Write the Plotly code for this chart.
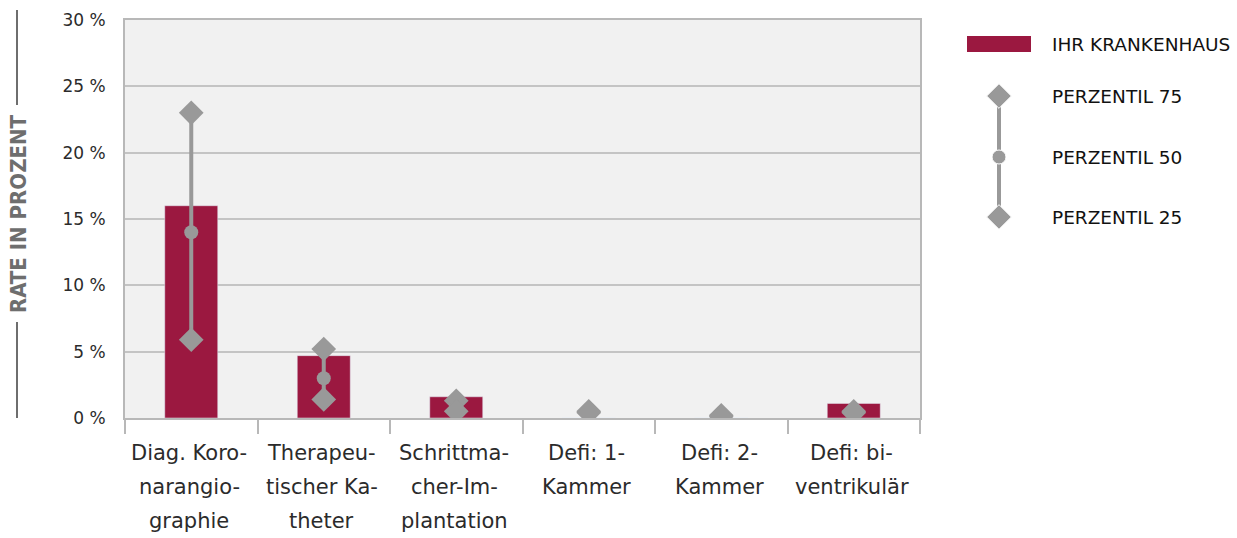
import plotly.graph_objects as go

# Kategorien (Zeilenumbrüche wie in der Beschriftung)
categories = ["Diag. Koronarangiographie", "Therapeutischer Katheter",
              "Schrittmacher-Implantation", "Defi: 1-Kammer", "Defi: 2-Kammer",
              "Defi: biventrikulär"]
category_lines = [
    ["Diag. Koro-", "narangio-", "graphie"],
    ["Therapeu-", "tischer Ka-", "theter"],
    ["Schrittma-", "cher-Im-", "plantation"],
    ["Defi: 1-", "Kammer"],
    ["Defi: 2-", "Kammer"],
    ["Defi: bi-", "ventrikulär"],
]

# Raten in Prozent
ihr_krankenhaus = [16.0, 4.7, 1.6, 0.0, 0.0, 1.1]
perzentil_75 = [23.0, 5.2, 1.3, 0.5, 0.2, 0.5]
perzentil_50 = [14.0, 3.0, 0.8, 0.4, 0.2, 0.4]
perzentil_25 = [5.9, 1.4, 0.5, 0.4, 0.1, 0.4]

y_ticks = [0, 5, 10, 15, 20, 25, 30]
y_tick_labels = [f"{v} %" for v in y_ticks]

legend_labels = ["IHR KRANKENHAUS", "PERZENTIL 75", "PERZENTIL 50", "PERZENTIL 25"]

BAR = "#9b1840"
GREY = "#999999"
AXIS = "#b8b8b8"
GRID = "#c4c4c4"
TEXT = "#2b2b2b"
FONT = "DejaVu Sans, sans-serif"

# Figure geometry (pixels)
W, H = 1237, 538
ML, MR, MT, MB = 125, 0, 20, 120
PLOT_RIGHT = 920
paper_w = W - ML - MR
paper_h = H - MT - MB
main_dom = (PLOT_RIGHT - ML) / paper_w
leg_left = 935


def px_x(x):
    return (x - ML) / paper_w


def px_y(y):
    return (H - MB - y) / paper_h


fig = go.Figure()

fig.add_trace(go.Bar(
    x=categories, y=ihr_krankenhaus, marker_color=BAR, width=0.4,
    name=legend_labels[0], showlegend=False,
))

# Spanne P25–P75 als senkrechte Linie
line_x, line_y = [], []
for c, lo, hi in zip(categories, perzentil_25, perzentil_75):
    line_x += [c, c, None]
    line_y += [lo, hi, None]
fig.add_trace(go.Scatter(
    x=line_x, y=line_y, mode="lines", line=dict(color=GREY, width=4),
    showlegend=False, hoverinfo="skip",
))
fig.add_trace(go.Scatter(
    x=categories, y=perzentil_75, mode="markers", name=legend_labels[1],
    marker=dict(symbol="diamond", size=19, color=GREY, opacity=1), showlegend=False,
))
fig.add_trace(go.Scatter(
    x=categories, y=perzentil_50, mode="markers", name=legend_labels[2],
    marker=dict(symbol="circle", size=14, color=GREY, opacity=1), showlegend=False,
))
fig.add_trace(go.Scatter(
    x=categories, y=perzentil_25, mode="markers", name=legend_labels[3],
    marker=dict(symbol="diamond", size=19, color=GREY, opacity=1), showlegend=False,
))

# Legende auf eigener Achse (Pixelkoordinaten)
leg_y = [44, 96, 157, 217]
leg_glyph_x = 999
fig.add_shape(type="rect", xref="x2", yref="y2", x0=leg_left, x1=W,
              y0=MT, y1=H - MB, fillcolor="white", line_width=0, layer="below")
fig.add_trace(go.Scatter(
    x=[leg_glyph_x, leg_glyph_x], y=[leg_y[1], leg_y[3]], mode="lines",
    line=dict(color=GREY, width=4), xaxis="x2", yaxis="y2",
    showlegend=False, hoverinfo="skip",
))
fig.add_trace(go.Scatter(
    x=[leg_glyph_x] * 3, y=leg_y[1:], mode="markers",
    marker=dict(symbol=["diamond", "circle", "diamond"], size=[19, 14, 19],
                color=GREY, opacity=1),
    xaxis="x2", yaxis="y2", showlegend=False, hoverinfo="skip",
))
fig.add_shape(type="rect", xref="x2", yref="y2", x0=967, x1=1031, y0=36, y1=52,
              fillcolor=BAR, line_width=0)
for label, y in zip(legend_labels, leg_y):
    fig.add_annotation(xref="x2", yref="y2", x=1050, y=y, text=label,
                       showarrow=False, xanchor="left", yanchor="middle",
                       font=dict(family=FONT, size=18.5, color="#111111"))

# Kategorienbeschriftungen, zeilenweise
line_pos = [453, 487, 521]
for c, lines in zip(categories, category_lines):
    for i, t in enumerate(lines):
        fig.add_annotation(xref="x", yref="paper", x=c, y=px_y(line_pos[i]),
                           text=t, showarrow=False, xanchor="center",
                           yanchor="middle", xshift=-2,
                           font=dict(family=FONT, size=21, color=TEXT))

# Achsentitel mit Zierlinien
fig.add_annotation(xref="paper", yref="paper", x=px_x(18), y=px_y(214),
                   text="<b>RATE IN PROZENT</b>", textangle=-90, showarrow=False,
                   xanchor="center", yanchor="middle",
                   font=dict(family="DejaVu Sans Condensed, Liberation Sans Narrow, Roboto, sans-serif",
                             size=22, color="#6e6e6e"))
for y0, y1 in [(10, 105), (322, 418)]:
    fig.add_shape(type="line", xref="paper", yref="paper",
                  x0=px_x(17), x1=px_x(17), y0=px_y(y0), y1=px_y(y1),
                  line=dict(color="#6e6e6e", width=2))

fig.update_layout(
    width=W, height=H,
    margin=dict(l=ML, r=MR, t=MT, b=MB, pad=0),
    paper_bgcolor="white", plot_bgcolor="#f1f1f1",
    bargap=0.6, showlegend=False,
    xaxis=dict(domain=[0, main_dom], type="category", showgrid=False,
               showticklabels=False, ticks="outside", tickson="boundaries",
               ticklen=14, tickwidth=2, tickcolor=AXIS,
               showline=True, linecolor=AXIS, linewidth=2, mirror=True,
               fixedrange=True),
    yaxis=dict(range=[0, 30], tickvals=y_ticks, ticktext=y_tick_labels,
               showgrid=True, gridcolor=GRID, gridwidth=1.5,
               showline=True, linecolor=AXIS, linewidth=2, mirror=True,
               zeroline=False, ticks="outside", ticklen=14,
               tickcolor="rgba(0,0,0,0)",
               tickfont=dict(family=FONT, size=17, color=TEXT)),
    xaxis2=dict(domain=[px_x(leg_left), 1], range=[leg_left, W], visible=False,
                anchor="y2"),
    yaxis2=dict(domain=[0, 1], range=[H - MB, MT], visible=False, anchor="x2"),
)

fig.write_html("out.html")
